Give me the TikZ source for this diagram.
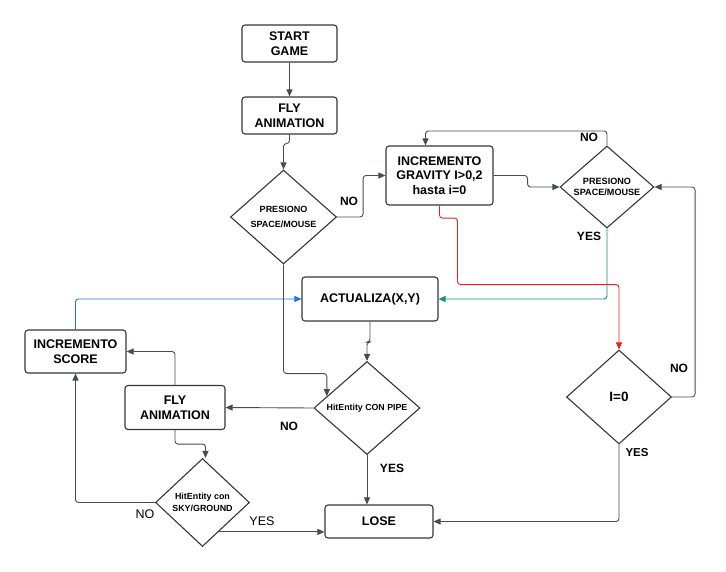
\documentclass[tikz,border=0pt]{standalone}
\usepackage{fontspec}
\setmainfont{Liberation Sans}
\usetikzlibrary{shapes.geometric,arrows.meta,calc}
\definecolor{lc}{HTML}{454B54}
\definecolor{bc}{HTML}{33373D}
\definecolor{tealc}{HTML}{13937D}
\definecolor{redc}{HTML}{E8201E}
\definecolor{bluec}{HTML}{2374E1}
\tikzset{
  box/.style={draw=bc, line width=1.1pt, rounded corners=3pt, rectangle, align=center,
    font=\bfseries\fontsize{12.5}{15}\selectfont, inner sep=0pt},
  dia/.style={draw=bc, line width=1.1pt, diamond, aspect=1.15, inner sep=0pt, align=center},
  conn/.style={draw=lc, line width=0.9pt, rounded corners=3pt, -{Triangle[length=7pt,width=6pt]}},
  lbl/.style={font=\bfseries\fontsize{12}{14}\selectfont, inner sep=0pt},
  lblr/.style={font=\fontsize{12.5}{14}\selectfont, inner sep=0pt},
}
\begin{document}
\begin{tikzpicture}[x=1pt,y=-1pt]
\useasboundingbox[fill=white] (0,0) rectangle (726,571);
% boxes
\node[box, minimum width=95pt, minimum height=37pt] (start) at (289.5,43.5) {START\\GAME};
\node[box, minimum width=95pt, minimum height=37pt] (fly1) at (289.5,115.5) {FLY\\ANIMATION};
\node[box, minimum width=107pt, minimum height=59pt, font=\bfseries\fontsize{12.5}{14.7}\selectfont] (grav) at (439.5,175.5) {INCREMENTO\\GRAVITY I>0,2\\hasta i=0};
\node[box, minimum width=136pt, minimum height=44pt] (act) at (370,299) {ACTUALIZA(X,Y)};
\node[box, minimum width=101pt, minimum height=43pt] (score) at (75.5,351.5) {INCREMENTO\\SCORE};
\node[box, minimum width=100pt, minimum height=44pt] (fly2) at (175,407.5) {FLY\\ANIMATION};
\node[box, minimum width=108pt, minimum height=33pt] (lose) at (379,521.5) {LOSE};
% diamonds
\node[dia, minimum width=106pt, minimum height=94pt, font=\bfseries\fontsize{9}{14.6}\selectfont] (d1) at (283.5,217) {PRESIONO\\SPACE/MOUSE};
\node[dia, minimum width=94pt, minimum height=82pt, font=\bfseries\fontsize{9.1}{11}\selectfont] (d2) at (607,187) {PRESIONO\\SPACE/MOUSE};
\node[dia, minimum width=105pt, minimum height=94pt, font=\bfseries\fontsize{13.5}{15}\selectfont] (d3) at (619,397) {I=0};
\node[dia, minimum width=106pt, minimum height=93pt, font=\bfseries\fontsize{8.8}{11}\selectfont] (d4) at (367,408) {HitEntity CON PIPE};
\node[dia, minimum width=94pt, minimum height=88pt, aspect=1.07, font=\bfseries\fontsize{8.9}{11.5}\selectfont] (d5) at (202.5,502.5) {HitEntity con\\SKY/GROUND};
% connectors
\draw[conn] (start) -- (fly1);
\draw[conn] (fly1.south) -- ++(0,9) -| (d1.north);
\draw[conn] (d1.east) -- ++(26,0) |- (grav.west);
\draw[conn] (grav.east) -- ++(34,0) |- (d2.west);
\draw[conn] (d2.north) -- ++(0,-14.5) -| ([xshift=-14pt]grav.north);
\draw[conn, draw=tealc, -{Triangle[length=7pt,width=6pt,fill=tealc]}] (d2.south) |- (act.east);
\draw[conn, draw=redc, -{Triangle[length=7pt,width=6pt,fill=redc]}] (grav.south) -- ++(0,12.5) -- ++(18,0) -- ++(0,66.5) -| (d3.north);
\draw[conn] (d3.east) -- ++(23,0) |- (d2.east);
\draw[conn] (d3.south) |- (lose.east);
\draw[conn] (act.south) -- ++(0,20.5) -| (d4.north);
\coordinate (d4in) at ($(d4.west)!0.25!(d4.north)$);
\draw[conn] (d1.south) -- ++(0,109) -| (d4in);
\draw[conn] (d4.west) -- (fly2.east);
\draw[conn] (fly2.north) |- (score.east);
\draw[conn, draw=bluec, -{Triangle[length=7pt,width=6pt,fill=bluec]}] (score.north) |- (act.west);
\draw[conn] (fly2.south) -- ++(0,14) -| ([xshift=3pt]d5.north);
\draw[conn] (d5.west) -| (score.south);
\coordinate (d5y) at ($(d5.east)!0.66!(d5.south)$);
\draw[conn] (d5y) -- (d5y -| lose.west);
\draw[conn] (d4.south) -- (d4.south |- lose.north);
% labels
\node[lbl] (l1) at (349,201) {NO};
\node[lbl] (l2) at (589,137) {NO};
\node[lbl] (l3) at (589,236) {YES};
\node[lbl] (l4) at (679,368) {NO};
\node[lbl, font=\bfseries\fontsize{11.5}{14}\selectfont] (l5) at (637,453) {YES};
\node[lbl] (l6) at (289,426) {NO};
\node[lbl] (l7) at (392,468) {YES};
\node[lblr] (l8) at (145,514) {NO};
\node[lblr] (l9) at (262,521) {YES};
\end{tikzpicture}
\end{document}
